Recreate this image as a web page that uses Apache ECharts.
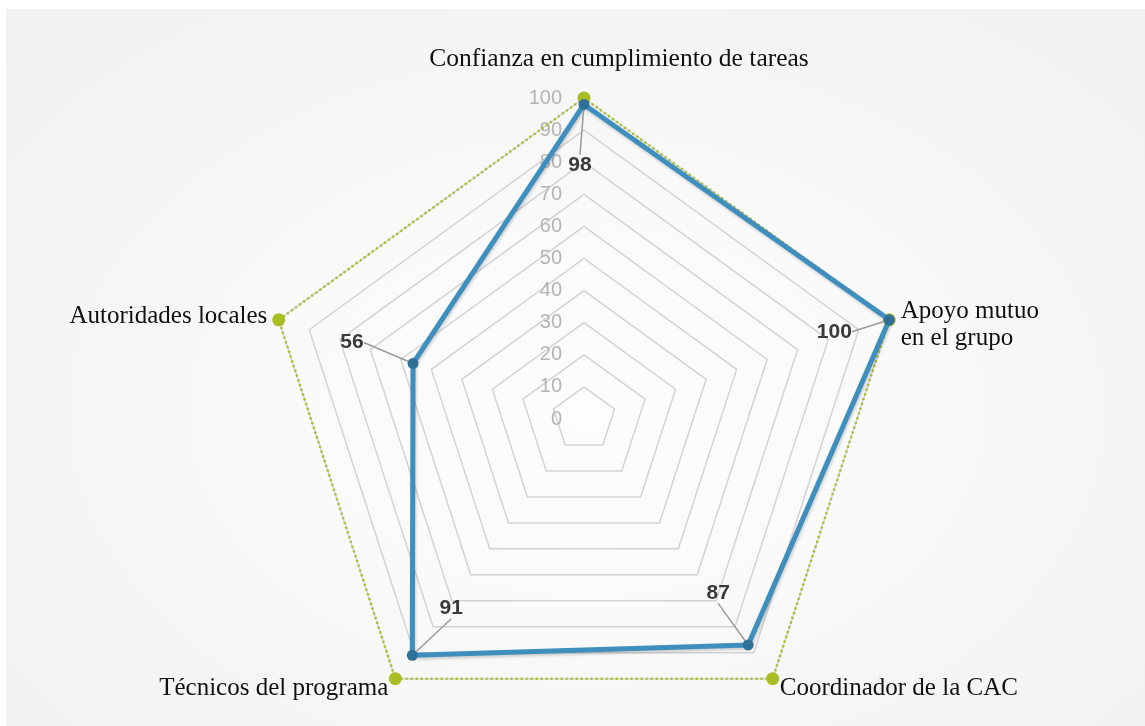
<!DOCTYPE html>
<html>
<head>
<meta charset="utf-8">
<script src="https://cdn.jsdelivr.net/npm/echarts@6/dist/echarts.min.js"></script>
<style>
  html, body { margin: 0; padding: 0; background: #fff; }
  #wrap {
    position: absolute; left: 6px; top: 9px; width: 1139px; height: 717px;
    background: radial-gradient(ellipse at 51% 56%, #fdfdfd 0%, #fafafa 35%, #f4f4f4 70%, #f1f1f1 100%);
  }
  #chart { width: 1139px; height: 717px; }
</style>
</head>
<body>
<div id="wrap"><div id="chart"></div></div>
<script>
// ECharts lays indicators out counter-clockwise, so they are listed that way
const categories = [
  'Confianza en cumplimiento de tareas',
  'Autoridades locales',
  'Técnicos del programa',
  'Coordinador de la CAC',
  'Apoyo mutuo\nen el grupo',
]
const scores = [98, 56, 91, 87, 100]
const reference = [100, 100, 100, 100, 100]
const axisMax = 100

// label offsets from each point (px), same order as categories
const labelShift = [[-4, 61], [-61, -21], [39, -47], [-30, -52], [-55, 12]]

const chart = echarts.init(document.getElementById('chart'), null, { renderer: 'canvas' })

const serif = '"Liberation Serif", "DejaVu Serif", serif'

chart.setOption({
  animation: false,
  radar: {
    center: [578, 410],
    radius: 321,
    shape: 'polygon',
    splitNumber: 10,
    startAngle: 90,
    indicator: categories.map((name, i) => {
      const ind = { name, min: 0, max: axisMax }
      if (i === 0) {
        ind.axisLabel = {
          show: true, color: '#b4b4b4', fontSize: 20, margin: 22,
          fontFamily: '"Liberation Sans", Arial, sans-serif',
          showMinLabel: true, showMaxLabel: true,
        }
      }
      return ind
    }),
    axisName: {
      color: '#111',
      fontFamily: serif,
      fontSize: 25,
      lineHeight: 27,
      formatter: name => {
        if (name === categories[0]) return `{top|${name}}`
        // two-line name sits a bit lower than its point
        if (name.includes('\n')) return `{gap| }\n${name}`
        return name
      },
      rich: {
        top: { fontFamily: serif, fontSize: 25.5, color: '#111', padding: [0, 0, 26, 70] },
        gap: { fontSize: 1, lineHeight: 17 },
      },
    },
    nameGap: 12,
    axisLine: { show: false },
    axisTick: { show: false },
    axisLabel: { show: false },
    splitArea: { show: false },
    splitLine: { lineStyle: { color: '#d3d3d3', width: 1.5 } },
  },
  series: [
    {
      type: 'radar',
      z: 2,
      symbol: 'circle',
      symbolSize: 13,
      itemStyle: { color: '#a9bd25' },
      lineStyle: { color: '#a9bd25', width: 2.5, type: [2, 3] },
      data: [{ value: reference, name: 'Referencia' }],
    },
    {
      type: 'radar',
      z: 3,
      symbol: 'circle',
      symbolSize: 11,
      itemStyle: { color: '#2f6f98' },
      lineStyle: {
        color: '#3e8fbe', width: 5,
        shadowColor: 'rgba(0,0,0,0.18)', shadowBlur: 3, shadowOffsetX: 1, shadowOffsetY: 2,
      },
      label: {
        show: true,
        color: '#3a3a3a',
        fontWeight: 'bold',
        fontSize: 21,
        fontFamily: '"Liberation Sans", Arial, sans-serif',
        align: 'center',
        verticalAlign: 'middle',
      },
      labelLine: { show: true, lineStyle: { color: '#9a9a9a', width: 1.5 } },
      labelLayout: params => {
        const i = scores.indexOf(Number(params.text))
        if (i < 0) return {}
        const cx = params.rect.x + params.rect.width / 2
        const cy = params.rect.y + params.rect.height / 2
        return { x: cx + labelShift[i][0], y: cy + labelShift[i][1], align: 'center', verticalAlign: 'middle' }
      },
      data: [{ value: scores, name: 'Valoración' }],
    },
  ],
})
</script>
</body>
</html>
